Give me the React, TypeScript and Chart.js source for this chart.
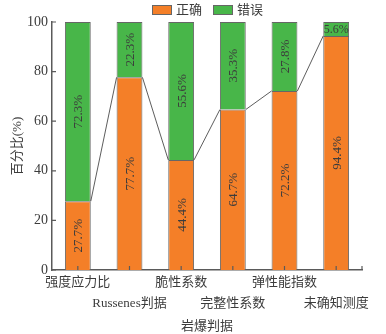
import React, { useEffect, useRef } from 'react';
import { Chart, registerables } from 'chart.js';

Chart.register(...registerables);

const categories = ['强度应力比', 'Russenes判据', '脆性系数', '完整性系数', '弹性能指数', '未确知测度'];
const correctValues = [27.7, 77.7, 44.4, 64.7, 72.2, 94.4];
const wrongValues = [72.3, 22.3, 55.6, 35.3, 27.8, 5.6];
const seriesNames = ['正确', '错误'];
const yMin = 0;
const yMax = 100;
const yStep = 20;
const yTitle = '百分比(%)';
const xTitle = '岩爆判据';

const FONT = '"Liberation Serif", "Noto Sans CJK SC", serif';
const TEXT = '#3c3c3c';
const ORANGE = '#F47F28';
const GREEN = '#48B649';
const AXIS = '#5a5a5a';
const BAR_BORDER = '#666666';

const connectorPlugin = {
  id: 'connector',
  afterDatasetsDraw(chart: any) {
    const meta = chart.getDatasetMeta(0);
    const ctx = chart.ctx;
    ctx.save();
    ctx.strokeStyle = '#333';
    ctx.lineWidth = 0.8;
    for (let i = 0; i < meta.data.length - 1; i++) {
      const a = meta.data[i].getProps(['x', 'y', 'width'], true);
      const b = meta.data[i + 1].getProps(['x', 'y', 'width'], true);
      ctx.beginPath();
      ctx.moveTo(a.x + a.width / 2, a.y);
      ctx.lineTo(b.x - b.width / 2, b.y);
      ctx.stroke();
    }
    ctx.restore();
  },
};

const labelPlugin = {
  id: 'segLabels',
  afterDatasetsDraw(chart: any) {
    const ctx = chart.ctx;
    ctx.save();
    ctx.fillStyle = TEXT;
    ctx.textAlign = 'center';
    ctx.textBaseline = 'middle';
    chart.data.datasets.forEach((ds: any, di: number) => {
      const meta = chart.getDatasetMeta(di);
      meta.data.forEach((el: any, i: number) => {
        const p = el.getProps(['x', 'y', 'base'], true);
        const h = Math.abs(p.base - p.y);
        const cy = (p.base + p.y) / 2;
        const text = ds.data[i].toFixed(1) + '%';
        ctx.font = '13px ' + FONT;
        const w = ctx.measureText(text).width;
        if (w + 6 < h) {
          ctx.save();
          ctx.translate(p.x, cy);
          ctx.rotate(-Math.PI / 2);
          ctx.fillText(text, 0, 1);
          ctx.restore();
        } else {
          ctx.font = '12px ' + FONT;
          ctx.fillText(text, p.x, cy + 1);
        }
      });
    });
    ctx.restore();
  },
};

const ticksPlugin = {
  id: 'innerTicks',
  afterDraw(chart: any) {
    const ctx = chart.ctx;
    const x = chart.scales.x;
    const y = chart.scales.y;
    const area = chart.chartArea;
    ctx.save();
    ctx.strokeStyle = AXIS;
    ctx.lineWidth = 1.2;
    ctx.beginPath();
    y.ticks.forEach((t: any) => {
      const py = y.getPixelForValue(t.value);
      ctx.moveTo(area.left, py);
      ctx.lineTo(area.left + 4, py);
    });
    x.ticks.forEach((_t: any, i: number) => {
      const px = x.getPixelForTick(i);
      ctx.moveTo(px, area.bottom);
      ctx.lineTo(px, area.bottom - 4);
    });
    ctx.moveTo(area.right, area.bottom);
    ctx.lineTo(area.right, area.bottom - 4);
    ctx.stroke();
    ctx.restore();
  },
};

const legendPlugin = {
  id: 'customLegend',
  afterDraw(chart: any) {
    const ctx = chart.ctx;
    ctx.save();
    ctx.font = '13px ' + FONT;
    ctx.textBaseline = 'middle';
    ctx.textAlign = 'left';
    let xPos = 152;
    chart.data.datasets.forEach((ds: any) => {
      ctx.fillStyle = ds.backgroundColor;
      ctx.fillRect(xPos, 5, 20, 10);
      ctx.strokeStyle = BAR_BORDER;
      ctx.lineWidth = 1;
      ctx.strokeRect(xPos + 0.5, 5.5, 19, 9);
      ctx.fillStyle = TEXT;
      ctx.fillText(ds.label, xPos + 24, 11);
      xPos += 61;
    });
    ctx.restore();
  },
};

export default function App() {
  const ref = useRef<HTMLCanvasElement>(null);
  useEffect(() => {
    const chart = new Chart(ref.current as HTMLCanvasElement, {
      type: 'bar',
      data: {
        labels: categories,
        datasets: [
          {
            label: seriesNames[0],
            data: correctValues,
            backgroundColor: ORANGE,
            borderColor: BAR_BORDER,
            borderWidth: 1,
            categoryPercentage: 1,
            barPercentage: 0.5,
          },
          {
            label: seriesNames[1],
            data: wrongValues,
            backgroundColor: GREEN,
            borderColor: BAR_BORDER,
            borderWidth: 1,
            categoryPercentage: 1,
            barPercentage: 0.5,
          },
        ],
      },
      options: {
        responsive: false,
        animation: false,
        layout: { padding: { top: 22, right: 24, left: 0, bottom: 0 } },
        plugins: {
          legend: { display: false },
          tooltip: { enabled: false },
        },
        scales: {
          x: {
            stacked: true,
            grid: { display: false, drawTicks: false, tickLength: 0 },
            border: { display: true, color: AXIS, width: 1.5 },
            ticks: {
              autoSkip: false,
              maxRotation: 0,
              minRotation: 0,
              padding: 2,
              color: TEXT,
              font: { family: FONT, size: 13, lineHeight: 1.6 },
              callback: (_v: any, i: number) => (i % 2 === 1 ? ['', categories[i]] : [categories[i], '']),
            },
            title: {
              display: true,
              text: xTitle,
              color: TEXT,
              font: { family: FONT, size: 13 },
              padding: { top: 0, bottom: 0 },
            },
            afterFit: (s: any) => {
              s.height = 64;
            },
          },
          y: {
            stacked: true,
            min: yMin,
            max: yMax,
            grid: { display: false, drawTicks: false, tickLength: 0 },
            border: { display: true, color: AXIS, width: 1.5 },
            ticks: {
              stepSize: yStep,
              padding: 4,
              color: TEXT,
              font: { family: FONT, size: 14 },
            },
            title: {
              display: true,
              text: yTitle,
              color: TEXT,
              font: { family: FONT, size: 13 },
              padding: { top: 10, bottom: 0 },
            },
            afterFit: (s: any) => {
              s.width = 52;
            },
          },
        },
      },
      plugins: [connectorPlugin, labelPlugin, ticksPlugin, legendPlugin],
    });
    return () => chart.destroy();
  }, []);
  return (
    <div style={{ position: 'absolute', left: 0, top: 0, width: 386, height: 334, background: '#fff' }}>
      <canvas ref={ref} width={386} height={334} style={{ display: 'block' }} />
    </div>
  );
}
